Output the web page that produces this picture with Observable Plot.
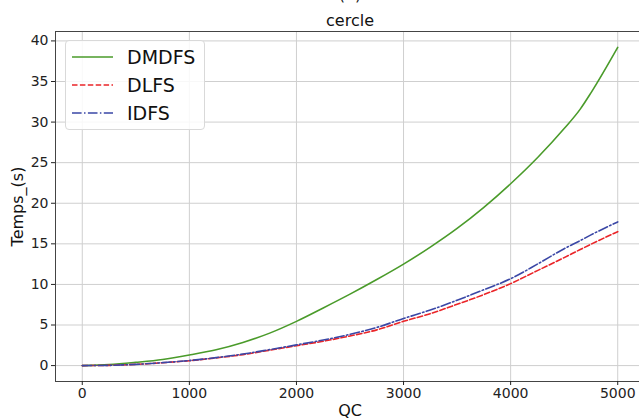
<!DOCTYPE html>
<html>
<head>
<meta charset="utf-8">
<script src="https://cdn.jsdelivr.net/npm/d3@7"></script>
<script src="https://cdn.jsdelivr.net/npm/@observablehq/plot@0.6"></script>
<style>
  html, body { margin: 0; padding: 0; background: #fff; overflow: hidden; }
  #wrap { position: relative; width: 639px; height: 419px; overflow: hidden; font-family: "DejaVu Sans", sans-serif; }
  #chart svg { max-width: none !important; display: block; }
  #legend { position: absolute; left: 65px; top: 40px; width: 140px; height: 90px; box-sizing: border-box;
    border: 1px solid #d9d9d9; border-radius: 4px; background: rgba(255,255,255,0.85); }
  .row { position: absolute; left: 6px; height: 24px; display: flex; align-items: center; }
  .row span { font-size: 19px; color: #111; margin-left: 14px; line-height: 1; }
</style>
</head>
<body>
<div id="wrap"><div id="chart"></div><div id="legend"></div></div>
<script>
const qc    = [0, 250, 500, 750, 1000, 1250, 1500, 1750, 2000, 2250, 2500, 2750, 3000, 3250, 3500, 3750, 4000, 4250, 4500, 4650, 4750, 5000];
const dmdfs = [0, 0.12, 0.4, 0.75, 1.3, 1.95, 2.85, 4.0, 5.45, 7.1, 8.8, 10.6, 12.5, 14.6, 16.9, 19.5, 22.4, 25.6, 29.2, 31.6, 33.6, 39.2];
const dlfs  = [0, 0.03, 0.15, 0.35, 0.6, 0.95, 1.35, 1.9, 2.45, 3.0, 3.65, 4.4, 5.45, 6.4, 7.55, 8.75, 10.1, 11.7, 13.3, 14.3, 14.95, 16.5];
const idfs  = [0, 0.03, 0.15, 0.36, 0.62, 0.98, 1.42, 1.97, 2.55, 3.15, 3.85, 4.7, 5.8, 6.85, 8.05, 9.35, 10.7, 12.5, 14.4, 15.4, 16.1, 17.7];
const seriesNames = ["DMDFS", "DLFS", "IDFS"];
const seriesValues = [dmdfs, dlfs, idfs];
const xTicks = [0, 1000, 2000, 3000, 4000, 5000];
const yTicks = [0, 5, 10, 15, 20, 25, 30, 35, 40];
const title = "cercle";
const supTitle = "(a)";
const xLabel = "QC";
const yLabel = "Temps_(s)";

const styles = {
  DMDFS: {stroke: "#4a9b2a", dash: null},
  DLFS: {stroke: "#ea2428", dash: "5.5,2.4"},
  IDFS: {stroke: "#3a47a6", dash: "9.6,2.4,1.5,2.4"}
};

const data = seriesNames.flatMap((name, i) => qc.map((x, j) => ({series: name, x, y: seriesValues[i][j]})));

const chart = Plot.plot({
  width: 644,
  height: 419,
  marginLeft: 55,
  marginRight: 0,
  marginTop: 31,
  marginBottom: 38,
  style: {fontFamily: "DejaVu Sans, sans-serif", fontSize: "14px", color: "#222", background: "#fff", overflow: "visible", maxWidth: "none"},
  x: {domain: [-250, 5250]},
  y: {domain: [-1.96, 41.16]},
  marks: [
    Plot.ruleX(xTicks, {stroke: "#cfcfcf", strokeWidth: 1}),
    Plot.ruleY(yTicks, {stroke: "#cfcfcf", strokeWidth: 1}),
    ...seriesNames.map(name => Plot.line(data.filter(d => d.series === name), {
      x: "x", y: "y", stroke: styles[name].stroke, strokeWidth: 1.6,
      strokeDasharray: styles[name].dash, curve: "monotone-x"
    })),
    Plot.frame({stroke: "#444", strokeWidth: 1}),
    Plot.axisX({ticks: xTicks, tickSize: 4, tickPadding: 3, label: null, tickFormat: d => String(d), fontSize: 14}),
    Plot.axisY({ticks: yTicks, tickSize: 4, tickPadding: 3, label: null, tickFormat: d => String(d), fontSize: 14}),
    Plot.text([xLabel], {frameAnchor: "bottom", lineAnchor: "middle", dy: 29.5, text: d => d, fontSize: 16, fill: "#111"}),
    Plot.text([yLabel], {frameAnchor: "left", textAnchor: "middle", lineAnchor: "middle", dx: -38, rotate: -90, text: d => d, fontSize: 16, fill: "#111"}),
    Plot.text([title], {frameAnchor: "top", lineAnchor: "middle", dy: -11, text: d => d, fontSize: 16, fill: "#111"}),
    Plot.text([supTitle], {frameAnchor: "top", lineAnchor: "middle", dy: -37, text: d => d, fontSize: 16, fill: "#111"})
  ]
});
document.getElementById("chart").appendChild(chart);

// Legend
const legend = document.getElementById("legend");
seriesNames.forEach((name, i) => {
  const row = document.createElement("div");
  row.className = "row";
  row.style.top = (4 + i * 28) + "px";
  const svg = d3.create("svg").attr("width", 41).attr("height", 6);
  svg.append("line").attr("x1", 0).attr("x2", 41).attr("y1", 3).attr("y2", 3)
    .attr("stroke", styles[name].stroke).attr("stroke-width", 1.6)
    .attr("stroke-dasharray", styles[name].dash);
  row.appendChild(svg.node());
  const span = document.createElement("span");
  span.textContent = name;
  row.appendChild(span);
  legend.appendChild(row);
});
</script>
</body>
</html>
